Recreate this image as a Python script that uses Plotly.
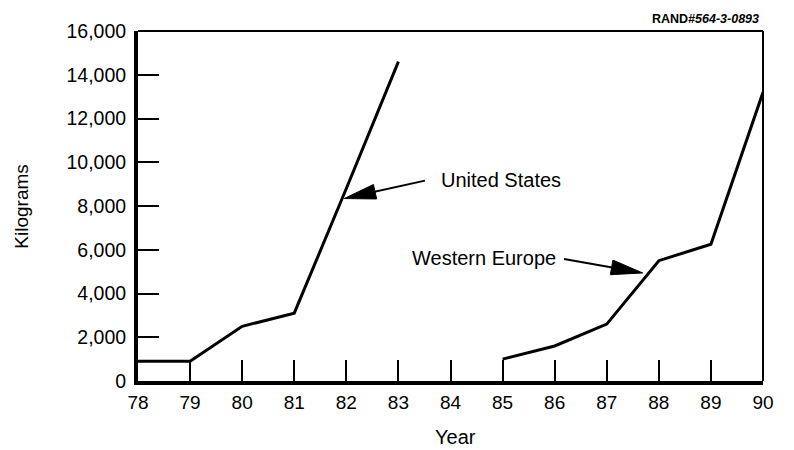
import plotly.graph_objects as go

# ---- data ----
us_years = [78, 79, 80, 81, 82, 83]
us_kg = [900, 900, 2500, 3100, 8800, 14600]
we_years = [85, 86, 87, 88, 89, 90]
we_kg = [1000, 1600, 2600, 5500, 6250, 13200]

x_ticks = list(range(78, 91))
x_ticktext = [str(v) for v in x_ticks]
y_ticks = [0, 2000, 4000, 6000, 8000, 10000, 12000, 14000, 16000]
y_ticktext = ["0", "2,000", "4,000", "6,000", "8,000", "10,000", "12,000", "14,000", "16,000"]

# annotation arrows: (label, text x, text y, tail x, tail y, tip x, tip y)
labels = ["United States", "Western Europe"]
label_x = [83.77, 83.22]
label_y = [9200, 5620]
tail_x = [83.51, 86.18]
tail_y = [9160, 5580]
tip_x = [81.96, 87.69]
tip_y = [8340, 4940]

# ---- layout geometry (page has an 8px body margin) ----
OFF = 8
W, H = 778, 442
PL, PT, PR, PB = 138, 27, 772, 381   # plot area in page pixels
PW, PH = PR - PL, PB - PT
ML, MT = PL - OFF, PT - OFF
MR, MB = W - ML - PW, H - MT - PH
XR = [78, 90]
YR = [0, 16000]
px_x = PW / (XR[1] - XR[0])
px_y = PH / (YR[1] - YR[0])

FONT = "Liberation Sans, Arial, Helvetica, sans-serif"

fig = go.Figure()
fig.add_trace(go.Scatter(x=us_years, y=us_kg, mode="lines",
                         line=dict(color="black", width=3), showlegend=False))
fig.add_trace(go.Scatter(x=we_years, y=we_kg, mode="lines",
                         line=dict(color="black", width=3), showlegend=False))

shapes = []
annotations = []
# top and right frame lines (thin)
shapes.append(dict(type="line", xref="paper", yref="paper", x0=0, x1=1, y0=1, y1=1,
                   line=dict(color="black", width=2)))
shapes.append(dict(type="line", xref="paper", yref="paper", x0=1, x1=1, y0=0, y1=1,
                   line=dict(color="black", width=2)))

HEAD_LEN = 32
HEAD_HALF = 7.5
for lab, lx, ly, tx, ty, hx, hy in zip(labels, label_x, label_y, tail_x, tail_y, tip_x, tip_y):
    dxp = (tx - hx) * px_x
    dyp = (ty - hy) * px_y
    L = (dxp ** 2 + dyp ** 2) ** 0.5
    ux, uy = dxp / L, dyp / L
    bx, by = HEAD_LEN * ux, HEAD_LEN * uy
    nx, ny = -uy, ux
    p1 = (hx, hy)
    p2 = (hx + (bx + HEAD_HALF * nx) / px_x, hy + (by + HEAD_HALF * ny) / px_y)
    p3 = (hx + (bx - HEAD_HALF * nx) / px_x, hy + (by - HEAD_HALF * ny) / px_y)
    mid = (hx + (bx * 0.8) / px_x, hy + (by * 0.8) / px_y)
    shapes.append(dict(type="line", xref="x", yref="y", x0=tx, y0=ty, x1=mid[0], y1=mid[1],
                       line=dict(color="black", width=2)))
    shapes.append(dict(type="path", xref="x", yref="y",
                       path=f"M{p1[0]},{p1[1]} L{p2[0]},{p2[1]} L{p3[0]},{p3[1]} Z",
                       fillcolor="black", line=dict(color="black", width=1)))
    annotations.append(dict(x=lx, y=ly, xref="x", yref="y", text=lab, showarrow=False,
                            xanchor="left", yanchor="middle",
                            font=dict(family=FONT, size=20, color="black")))


def px(xp):
    return (xp - PL) / PW


def py(yp):
    return (PB - yp) / PH


annotations.append(dict(x=px(770), y=py(15), xref="paper", yref="paper",
                        text="<b>RAND</b><b><i>#564-3-0893</i></b>", showarrow=False,
                        xanchor="right", yanchor="middle",
                        font=dict(family=FONT, size=12.5, color="black")))
annotations.append(dict(x=px(20), y=py(205), xref="paper", yref="paper",
                        text="Kilograms", showarrow=False, textangle=-90,
                        xanchor="center", yanchor="middle",
                        font=dict(family=FONT, size=19, color="black")))
annotations.append(dict(x=px(460), y=py(438), xref="paper", yref="paper",
                        text="Year", showarrow=False,
                        xanchor="center", yanchor="middle",
                        font=dict(family=FONT, size=20, color="black")))

fig.update_layout(
    width=W, height=H,
    margin=dict(l=ML, r=MR, t=MT, b=MB, pad=0),
    paper_bgcolor="white", plot_bgcolor="white",
    font=dict(family=FONT, size=19, color="black"),
    shapes=shapes, annotations=annotations,
    xaxis=dict(range=XR, tickvals=x_ticks, ticktext=x_ticktext,
               ticks="inside", ticklen=21, tickwidth=2, tickcolor="black",
               showline=True, linewidth=4, linecolor="black",
               showgrid=False, zeroline=False, ticklabelstandoff=1,
               tickfont=dict(family=FONT, size=19, color="black")),
    yaxis=dict(range=YR, tickvals=y_ticks, ticktext=y_ticktext,
               ticks="inside", ticklen=21, tickwidth=2, tickcolor="black",
               showline=True, linewidth=4, linecolor="black",
               showgrid=False, zeroline=False, ticklabelstandoff=4,
               tickfont=dict(family=FONT, size=19.5, color="black")),
)

fig.write_html("out.html")
